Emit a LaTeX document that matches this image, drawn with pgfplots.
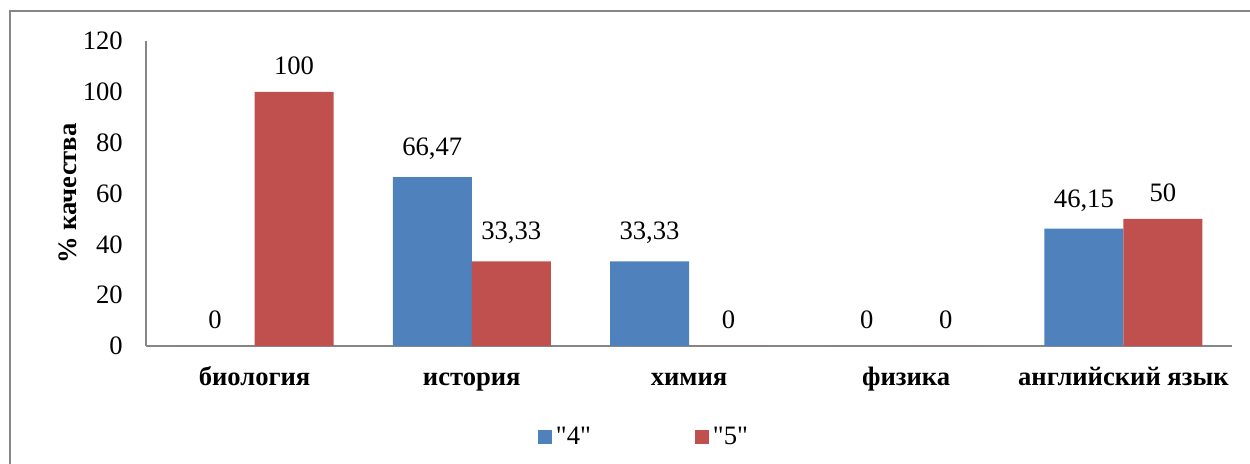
\documentclass[border=0pt]{standalone}
\usepackage{pgfplots}
\pgfplotsset{compat=1.18}
\usepackage{fontspec}
\setmainfont{Liberation Serif}[Ligatures=TeXOff]
\definecolor{b4}{HTML}{4F81BD}
\definecolor{r5}{HTML}{C0504D}
\definecolor{ax}{HTML}{868686}
\begin{document}
\fontsize{13.3}{16}\selectfont
\begin{tikzpicture}[x=0.5pt,y=0.5pt]
\clip (0,0) rectangle (1250,464);
\useasboundingbox (0,0) rectangle (1250,464);
\draw[color=ax, line width=1.2pt] (10,-10) -- (10,453) -- (1260,453);
\node[anchor=base, inner sep=0pt] at (212,469) {(};
\node[anchor=base, inner sep=0pt] at (466,469) {)};
\begin{axis}[
  at={(73pt,59pt)}, anchor=south west,
  scale only axis, width=543pt, height=152.5pt,
  ybar=0pt, bar width=39.5pt,
  xmin=-0.5, xmax=4.5, ymin=0, ymax=120,
  enlargelimits=false,
  ytick={0,20,...,120},
  xtick={0,...,4},
  xticklabels={биология, история, химия, физика, английский язык},
  separate axis lines,
  axis x line=bottom, axis y line=left,
  axis line style={-, draw=ax, line width=1pt},
  major tick length=0pt, tick style={draw=none},
  ticklabel style={font=\fontsize{13.3}{16}\selectfont\rmfamily},
  xticklabel style={font=\fontsize{13.3}{16}\selectfont\bfseries, anchor=base, yshift=-20pt},
  yticklabel style={xshift=-7pt},
  ylabel={\% качества},
  ylabel style={font=\fontsize{13.3}{16}\selectfont\bfseries, yshift=-6pt},
  nodes near coords,
  every node near coord/.append style={font=\fontsize{13.3}{16}\selectfont\rmfamily, text=black, yshift=4pt},
  /pgf/number format/.cd, use comma, 1000 sep={}, assume math mode=true,
  /pgfplots/.cd,
  legend style={draw=none, at={(0.355,-0.30)}, anchor=west, legend columns=2,
    font=\fontsize{13.3}{16}\selectfont,
    /tikz/every even column/.append style={column sep=50pt}},
  legend image code/.code={\fill[#1] (0pt,-3.5pt) rectangle (7pt,3.5pt);},
]
\addplot[fill=b4, draw=none] coordinates {(0,0) (1,66.47) (2,33.33) (3,0) (4,46.15)};
\addplot[fill=r5, draw=none] coordinates {(0,100) (1,33.33) (2,0) (3,0) (4,50)};
\legend{"4","5"}
\end{axis}
\end{tikzpicture}
\end{document}
